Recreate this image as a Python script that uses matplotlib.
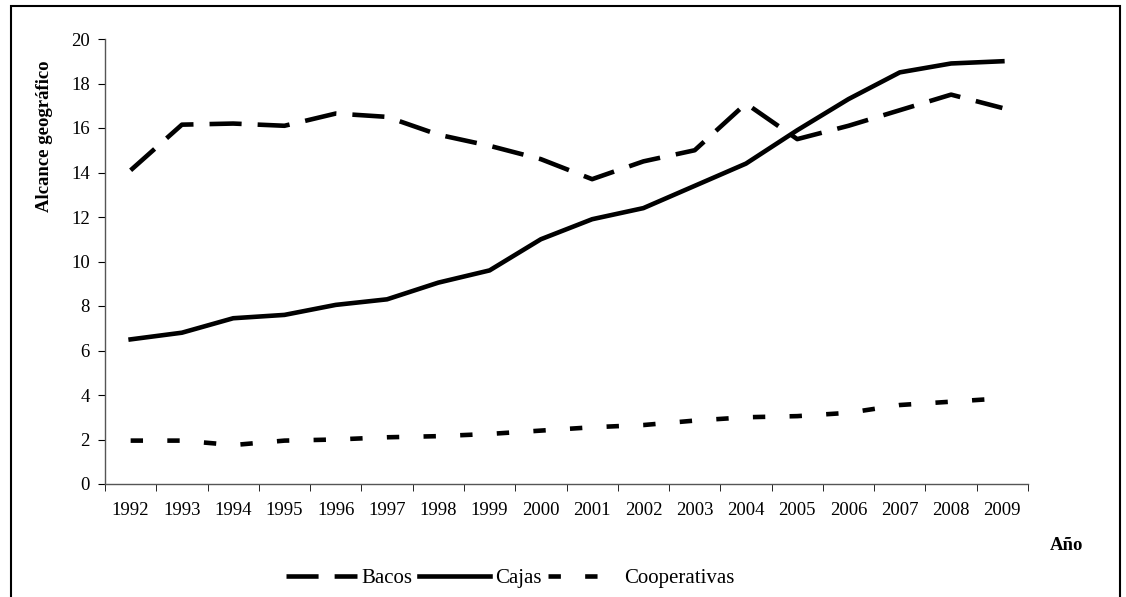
import matplotlib.pyplot as plt
import numpy as np
from matplotlib.patches import Rectangle

plt.rcParams['font.family'] = ['Liberation Serif', 'DejaVu Serif']

years = [str(y) for y in range(1992, 2010)]
bacos = [14.1, 16.15, 16.2, 16.1, 16.65, 16.5, 15.7, 15.2, 14.6, 13.7,
         14.5, 15.0, 17.1, 15.5, 16.1, 16.8, 17.5, 16.9]
cajas = [6.5, 6.8, 7.45, 7.6, 8.05, 8.3, 9.05, 9.6, 11.0, 11.9,
         12.4, 13.4, 14.4, 15.9, 17.3, 18.5, 18.9, 19.0]
coops = [1.95, 1.95, 1.75, 1.95, 2.0, 2.1, 2.15, 2.25, 2.4, 2.55,
         2.65, 2.85, 3.0, 3.05, 3.2, 3.55, 3.7, 3.85]

fig = plt.figure(figsize=(11.26, 5.97), dpi=100)
ax = fig.add_axes([105 / 1126, 1 - 484 / 597, 923 / 1126, 445 / 597])

x = np.arange(len(years))
lw = 3.3
ax.plot(x, bacos, color='black', lw=lw, dashes=(7, 3.5), label='Bacos')
ax.plot(x, cajas, color='black', lw=lw, label='Cajas')
ax.plot(x, coops, color='black', lw=lw, dashes=(2.7, 5.3), label='Cooperativas')

ax.set_xlim(-0.5, len(years) - 0.5)
ax.set_ylim(0, 20)
ax.set_yticks(range(0, 21, 2))
ax.set_xticks(x)
ax.set_xticklabels(years)
ax.set_xticks(np.arange(-0.5, len(years)), minor=True)
ax.tick_params(axis='x', which='major', length=0, pad=13, labelsize=13.5)
ax.tick_params(axis='x', which='minor', length=5, direction='out')
ax.tick_params(axis='y', length=5, direction='out', labelsize=13.5, pad=6)
for s in ['top', 'right']:
    ax.spines[s].set_visible(False)
for s in ['left', 'bottom']:
    ax.spines[s].set_color('#555555')
    ax.spines[s].set_linewidth(1)

fig.text(45 / 1126, 1 - 136 / 597, 'Alcance geográfico', rotation=90,
         fontsize=13.5, fontweight='bold', ha='center', va='center')
fig.text(1066 / 1126, 1 - 546 / 597, 'Año', fontsize=13.5,
         fontweight='bold', ha='center', va='center')

leg = fig.legend(loc='center', bbox_to_anchor=(510 / 1126, 1 - 578 / 597),
                 ncol=3, frameon=False, fontsize=15, handlelength=3.4,
                 handletextpad=0.25, columnspacing=0.3)

fig.add_artist(Rectangle((11 / 1126, -0.01), 1109 / 1126, 1 - 6 / 597 + 0.01,
                         transform=fig.transFigure, fill=False,
                         edgecolor='black', lw=1.5))

fig.savefig('out.png', dpi=100)
